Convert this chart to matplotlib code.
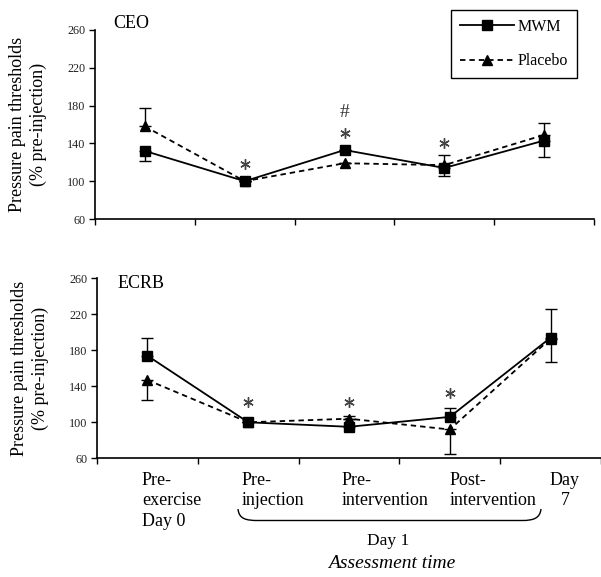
import matplotlib
matplotlib.use("Agg")
import matplotlib.pyplot as plt
from matplotlib.path import Path
from matplotlib.patches import PathPatch

plt.rcParams['font.family'] = ['Liberation Serif', 'DejaVu Serif']

# data
time_points = ["Pre-\nexercise\nDay 0", "Pre-\ninjection", "Pre-\nintervention",
               "Post-\nintervention", "Day\n7"]
ceo_mwm = [132, 100, 133, 114, 143]
ceo_mwm_err = [11, 0, 0, 9, 17]          # drawn downward
ceo_placebo = [158, 100, 119, 117, 149]
ceo_placebo_err = [19, 0, 0, 11, 13]     # drawn upward
ecrb_mwm = [174, 100, 95, 106, 194]
ecrb_mwm_err = [20, 0, 12, 10, 32]       # drawn upward
ecrb_placebo = [147, 100, 104, 92, 193]
ecrb_placebo_err = [22, 0, 0, 27, 26]    # drawn downward

# significance marks: (index, y, symbol)
ceo_marks = [(1, 118, "*"), (2, 151, "*"), (2, 173, "#"), (3, 140, "*")]
ecrb_marks = [(1, 123, "*"), (2, 123, "*"), (3, 133, "*")]

W, H = 601, 577
fig = plt.figure(figsize=(W / 100, H / 100), dpi=100)


def fx(x):
    return x / W


def fy(y):
    return 1 - y / H


ax1 = fig.add_axes([fx(95), fy(219), fx(594) - fx(95), fy(30) - fy(219)])
ax2 = fig.add_axes([fx(97), fy(458.3), fx(601) - fx(97), fy(278.3) - fy(458.3)])

xs = [i + 0.5 for i in range(len(time_points))]
zeros = [0] * len(xs)


def draw_panel(ax, mwm, mwm_lo, mwm_hi, plac, plac_lo, plac_hi, marks):
    ax.errorbar(xs, plac, yerr=[plac_lo, plac_hi], fmt='none', ecolor='black',
                elinewidth=1, capsize=4.5, capthick=1, zorder=2)
    ax.errorbar(xs, mwm, yerr=[mwm_lo, mwm_hi], fmt='none', ecolor='black',
                elinewidth=1, capsize=4.5, capthick=1, zorder=2)
    ax.plot(xs, plac, color='black', linestyle=(0, (3, 2.2)), linewidth=1.3,
            marker='^', markersize=7.5, zorder=3, label='Placebo')
    ax.plot(xs, mwm, color='black', linestyle='-', linewidth=1.3,
            marker='s', markersize=7.5, zorder=4, label='MWM')
    for i, y, s in marks:
        if s == "*":
            ax.plot(xs[i], y, linestyle='none', marker=(6, 2, 0), markersize=7.5,
                    markeredgewidth=1.0, color='#444444')
        else:
            ax.text(xs[i], y, s, ha='center', va='center', fontsize=14,
                    color='#333333')
    ax.set_xlim(0, 5)
    ax.set_ylim(60, 260)
    ax.set_yticks([60, 100, 140, 180, 220, 260])
    ax.set_xticks([0, 1, 2, 3, 4, 5])
    ax.set_xticklabels([])
    ax.tick_params(axis='y', direction='out', length=4, width=1, labelsize=8.7,
                   labelcolor='#222222', pad=3)
    ax.tick_params(axis='x', direction='out', length=4, width=1)
    for side in ['top', 'right']:
        ax.spines[side].set_visible(False)
    for side in ['left', 'bottom']:
        ax.spines[side].set_linewidth(1.2)


draw_panel(ax1, ceo_mwm, ceo_mwm_err, zeros, ceo_placebo, zeros, ceo_placebo_err,
           ceo_marks)
draw_panel(ax2, ecrb_mwm, zeros, ecrb_mwm_err, ecrb_placebo, ecrb_placebo_err, zeros,
           ecrb_marks)

fig.text(fx(113), fy(28), "CEO", fontsize=13, ha='left', va='baseline')
fig.text(fx(118), fy(288), "ECRB", fontsize=13, ha='left', va='baseline')

ylab = "Pressure pain thresholds\n(% pre-injection)"
fig.text(fx(28), fy(124), ylab, rotation=90, ha='center', va='center',
         fontsize=13, linespacing=1.3)
fig.text(fx(30), fy(368), ylab, rotation=90, ha='center', va='center',
         fontsize=13, linespacing=1.3)

# legend
handles, labels = ax1.get_legend_handles_labels()
leg = fig.legend(handles[::-1], labels[::-1], loc='upper right',
                 bbox_to_anchor=(fx(577), fy(10)), frameon=True, fancybox=False,
                 edgecolor='black', framealpha=1, fontsize=11.5, handlelength=3.4,
                 handletextpad=0.25, labelspacing=1.15, borderpad=0.55,
                 borderaxespad=0)
leg.get_frame().set_linewidth(1.0)

# time point labels under lower panel
label_x = [142, 242, 342, 450, 565]
for i, lab in enumerate(time_points):
    ha = 'center' if i == len(time_points) - 1 else 'left'
    fig.text(fx(label_x[i]), fy(472), lab, ha=ha, va='top', fontsize=13,
             linespacing=1.25, multialignment=ha)

# brace for Day 1
verts = [(238, 509), (239, 519), (246, 520.5), (258, 520.5),
         (522, 520.5),
         (534, 520.5), (540, 518), (541, 509)]
codes = [Path.MOVETO, Path.CURVE4, Path.CURVE4, Path.CURVE4,
         Path.LINETO,
         Path.CURVE4, Path.CURVE4, Path.CURVE4]
brace = Path([(fx(x), fy(y)) for x, y in verts], codes)
fig.patches.append(PathPatch(brace, transform=fig.transFigure, fill=False,
                             edgecolor='black', linewidth=1.0))

fig.text(fx(388), fy(545), "Day 1", ha='center', va='baseline', fontsize=12.5)
fig.text(fx(392), fy(568), "Assessment time", ha='center', va='baseline',
         fontsize=14, style='italic')

fig.savefig("out.png", dpi=100)
